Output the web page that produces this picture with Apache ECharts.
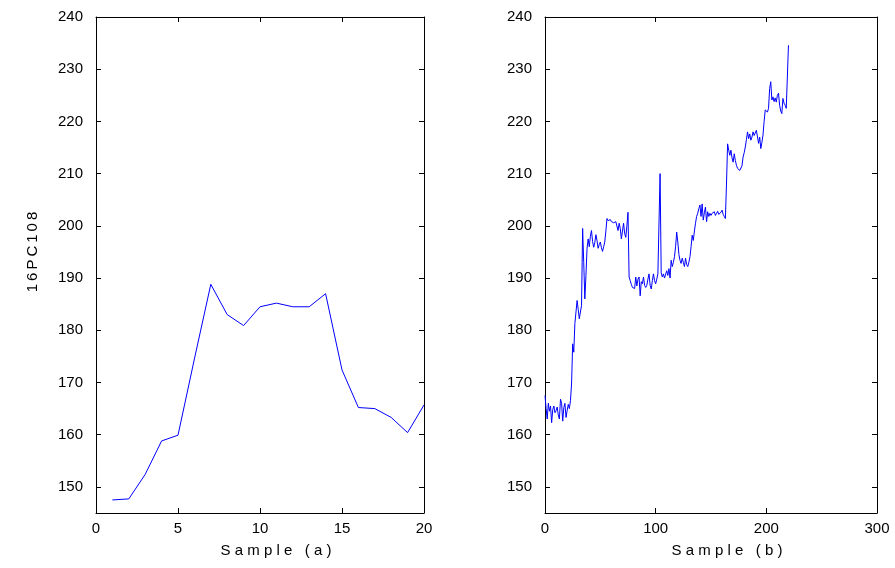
<!DOCTYPE html>
<html>
<head>
<meta charset="utf-8">
<script src="https://cdn.jsdelivr.net/npm/echarts@6/dist/echarts.min.js"></script>
<style>
  html, body { margin: 0; padding: 0; background: #fff; }
  #chart { width: 895px; height: 568px; }
</style>
</head>
<body>
<div id="chart"></div>
<script>
// Panel (a): 20 samples
const sampleA = [1, 2, 3, 4, 5, 6, 7, 8, 9, 10, 11, 12, 13, 14, 15, 16, 17, 18, 19, 20];
const valuesA = [147.5, 147.7, 152.4, 158.8, 159.9, 174.5, 188.8, 183.0, 180.9, 184.5,
                 185.2, 184.5, 184.5, 187.0, 172.4, 165.2, 165.0, 163.3, 160.4, 165.7];

// Panel (b): samples 0..220
const valuesB = [
  167.5, 165.0, 163.0, 166.0, 164.5, 165.5, 162.3, 164.8, 165.5, 164.2,
  164.6, 165.3, 163.8, 163.0, 166.8, 166.0, 162.6, 165.2, 166.0, 163.3,
  164.6, 165.8, 165.0, 166.5, 169.7, 177.4, 175.8, 181.3, 183.5, 185.7,
  184.0, 182.2, 183.5, 184.7, 199.5, 193.0, 186.0, 190.5, 195.7, 197.5,
  196.0, 198.0, 199.1, 197.0, 195.9, 196.8, 198.3, 197.2, 195.7, 196.4,
  196.9, 195.8, 195.1, 196.0, 196.9, 199.0, 201.4, 201.0, 200.8, 201.2,
  200.8, 201.0, 200.6, 200.9, 200.8, 200.5, 199.1, 200.5, 199.5, 197.5,
  199.0, 200.5, 198.5, 197.8, 200.0, 202.6, 190.2, 189.5, 188.8, 188.2,
  188.2, 188.0, 190.2, 188.5, 189.8, 190.2, 186.6, 189.3, 188.9, 190.2,
  188.6, 188.2, 188.6, 189.8, 190.8, 188.6, 187.9, 189.5, 190.8, 189.5,
  188.9, 189.8, 190.8, 190.5, 210.0, 191.0, 190.2, 190.8, 190.0, 189.8,
  191.4, 190.5, 191.8, 190.0, 193.4, 192.2, 193.0, 194.1, 196.0, 198.8,
  196.9, 194.5, 193.4, 192.8, 193.8, 193.0, 192.2, 193.8, 192.6, 192.2,
  193.0, 194.1, 196.0, 198.2, 197.2, 199.0, 200.5, 201.8, 202.4, 203.3,
  204.0, 201.8, 204.2, 201.1, 202.5, 203.6, 200.8, 202.7, 201.8, 202.4,
  202.0, 202.4, 202.2, 202.7, 202.0, 202.4, 202.8, 202.2, 202.0, 202.6,
  203.0, 202.2, 201.8, 201.4, 208.0, 215.7, 214.5, 213.5, 214.5, 213.0,
  212.2, 213.8, 212.5, 211.6, 211.0, 210.7, 210.6, 210.7, 211.5, 213.2,
  214.0, 215.1, 216.5, 218.0, 216.7, 217.6, 216.4, 217.0, 218.0, 217.3,
  217.0, 218.3, 218.3, 215.8, 217.0, 214.8, 216.0, 217.4, 220.0, 222.2,
  222.5, 221.8, 222.5, 226.3, 227.6, 224.1, 224.7, 223.8, 224.5, 223.7,
  225.0, 225.4, 223.1, 222.0, 221.5, 224.4, 223.5, 223.1, 222.5, 222.2,
  234.6
];

const yTicks = [150, 160, 170, 180, 190, 200, 210, 220, 230, 240];
const xLabelA = 'S a m p l e   ( a )';
const xLabelB = 'S a m p l e   ( b )';
const yLabel = '1\u20096\u2009P\u2009C\u20091\u20090\u20098';

const FONT = 'Liberation Sans, Arial, sans-serif';
const lineStyle = { color: '#000', width: 1 };
const tickStyle = { color: '#000', width: 1 };

function bottomX(gridIndex, min, max, interval) {
  return {
    type: 'value', gridIndex, position: 'bottom', min, max, interval,
    axisLine: { show: true, onZero: false, lineStyle },
    axisTick: { show: true, inside: true, length: 5, lineStyle: tickStyle },
    axisLabel: { fontFamily: FONT, fontSize: 15, color: '#000', margin: 8 },
    splitLine: { show: false }
  };
}
function topX(gridIndex, min, max, interval) {
  return {
    type: 'value', gridIndex, position: 'top', min, max, interval,
    axisLine: { show: true, onZero: false, lineStyle },
    axisTick: { show: true, inside: true, length: 5, lineStyle: tickStyle },
    axisLabel: { show: false },
    splitLine: { show: false }
  };
}
function leftY(gridIndex) {
  return {
    type: 'value', gridIndex, position: 'left', min: 145, max: 240,
    axisLine: { show: true, onZero: false, lineStyle },
    axisTick: { show: true, inside: true, length: 5, lineStyle: tickStyle, customValues: yTicks },
    axisLabel: { fontFamily: FONT, fontSize: 15, color: '#000', margin: 13, customValues: yTicks },
    splitLine: { show: false }
  };
}
function rightY(gridIndex) {
  return {
    type: 'value', gridIndex, position: 'right', min: 145, max: 240,
    axisLine: { show: true, onZero: false, lineStyle },
    axisTick: { show: true, inside: true, length: 5, lineStyle: tickStyle, customValues: yTicks },
    axisLabel: { show: false, customValues: yTicks },
    splitLine: { show: false }
  };
}

const nameStyle = { fontFamily: FONT, fontSize: 15, fill: '#000' };

const chart = echarts.init(document.getElementById('chart'), null, { renderer: 'canvas' });
chart.setOption({
  animation: false,
  backgroundColor: '#fff',
  grid: [
    { left: 96, right: 471, top: 17, bottom: 55 },
    { left: 545, right: 18, top: 17, bottom: 55 }
  ],
  xAxis: [
    bottomX(0, 0, 20, 5),
    topX(0, 0, 20, 5),
    bottomX(1, 0, 300, 100),
    topX(1, 0, 300, 100)
  ],
  yAxis: [
    leftY(0),
    rightY(0),
    leftY(1),
    rightY(1)
  ],
  graphic: [
    {
      type: 'text', x: 276, y: 551,
      style: Object.assign({ text: xLabelA, align: 'center', verticalAlign: 'middle' }, nameStyle)
    },
    {
      type: 'text', x: 727, y: 551,
      style: Object.assign({ text: xLabelB, align: 'center', verticalAlign: 'middle' }, nameStyle)
    },
    {
      type: 'text', x: 33, y: 252, rotation: Math.PI / 2,
      style: Object.assign({ text: yLabel, align: 'center', verticalAlign: 'middle' }, nameStyle)
    }
  ],
  series: [
    {
      type: 'line', xAxisIndex: 0, yAxisIndex: 0,
      data: sampleA.map((x, i) => [x, valuesA[i]]),
      showSymbol: false, symbol: 'none',
      lineStyle: { color: '#0000ff', width: 1 }
    },
    {
      type: 'line', xAxisIndex: 2, yAxisIndex: 2,
      data: valuesB.map((v, i) => [i, v]),
      showSymbol: false, symbol: 'none',
      lineStyle: { color: '#0000ff', width: 1 }
    }
  ]
});
</script>
</body>
</html>
